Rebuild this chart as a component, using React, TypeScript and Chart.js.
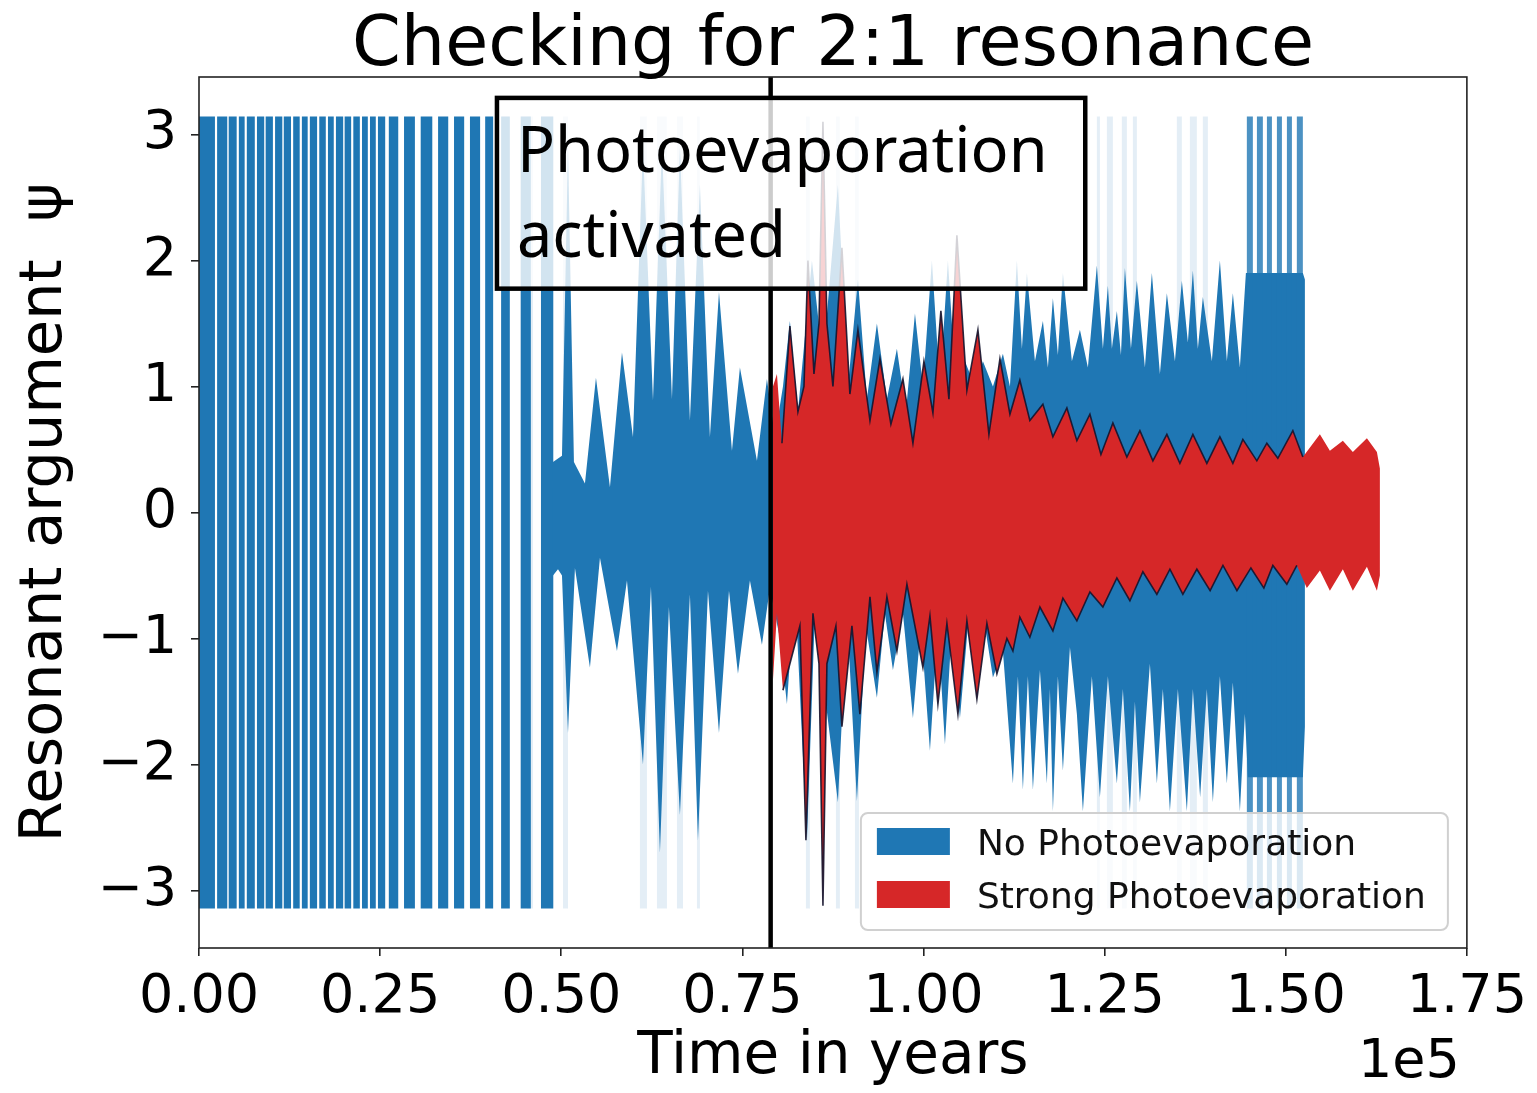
import React, { useEffect, useRef } from 'react';
import { Chart, registerables } from 'chart.js';

Chart.register(...registerables);

const AXIS_FONT = "'DejaVu Sans', 'Liberation Sans', sans-serif";
const NOTE_FONT = "'Noto Sans', 'DejaVu Sans', sans-serif";

const chartTitle = 'Checking for 2:1 resonance';
const xAxisTitle = 'Time in years';
const yAxisTitle = 'Resonant argument  ψ';
const xOffsetLabel = '1e5';
const seriesNames = ['No Photoevaporation', 'Strong Photoevaporation'];
const seriesColors = ['#1f77b4', '#d62728'];
const noteLines = ['Photoevaporation', 'activated'];

const xTickValues = [0, 25000, 50000, 75000, 100000, 125000, 150000, 175000];
const yTickValues = [-3, -2, -1, 0, 1, 2, 3];
const timeMax = 175000;
const psiAxisLimit = 3.456;
const psiWrap = Math.PI;
const activationYear = 78900;

// Circulating phase without photoevaporation: psi sweeps the full [-pi, pi] range (years)
const blueSweepStart = [0, 2500, 4100, 5500, 6600, 8000, 9200, 10500, 11700, 13000, 14200, 15300, 16600, 17800, 18900, 20100, 21300, 22500, 23600, 24700, 26200, 28300, 30600, 33000, 35200, 37400, 39500, 41700, 44400, 47200];
const blueSweepEnd = [2200, 3900, 5200, 6300, 7700, 9000, 10200, 11500, 12700, 13900, 15000, 16300, 17500, 18600, 19900, 21000, 22200, 23300, 24400, 25700, 27500, 29800, 32200, 34400, 36600, 38800, 40600, 42900, 45800, 48900];

// Sparse excursions across the full range
const blueFaintStart = [45300, 50240, 60860, 63210, 65970, 68730, 83770, 87910, 90540, 123930, 125310, 127380, 128900, 134970, 136770, 138560];
const blueFaintEnd = [46100, 50930, 61830, 64590, 66800, 69140, 84320, 88460, 91090, 124350, 126140, 128070, 129450, 135660, 137730, 139250];

// Late circulation episodes just before the run ends
const blueLateStart = [144630, 146020, 147400, 148780, 150160, 151530];
const blueLateEnd = [145460, 146840, 148090, 149470, 150850, 152360];

// Libration envelope without photoevaporation
const blueUpperT = [48860, 50100, 50930, 51750, 53270, 54790, 56720, 58380, 59900, 61280, 62660, 63900, 65280, 66380, 67760, 69140, 70520, 71770, 73560, 74660, 77010, 78390, 79490, 80600, 81560, 82670, 84600, 86120, 88190, 89570, 90950, 92190, 93570, 94950, 96330, 97570, 98820, 99920, 101160, 102270, 103370, 104470, 105720, 107100, 108200, 109580, 110960, 111930, 112890, 113580, 114270, 115380, 116480, 117170, 117860, 118550, 119240, 120480, 121590, 122690, 123930, 124760, 125450, 126000, 126690, 127250, 127800, 128630, 129450, 130560, 131520, 132630, 133590, 134700, 135660, 136490, 137180, 137870, 138560, 139800, 140910, 141870, 142700, 143670, 144500, 152360, 152640];
const blueUpperPsi = [0.40, 0.45, 2.9, 0.40, 0.23, 1.07, 0.20, 1.27, 0.60, 2.9, 0.89, 2.9, 0.90, 2.9, 0.73, 2.6, 0.60, 1.75, 0.49, 1.15, 0.41, 1.06, 0.6, 1.0, 1.52, 0.8, 2.0, 1.2, 2.6, 1.0, 1.85, 0.9, 1.5, 0.9, 1.3, 0.8, 1.58, 1.0, 2.0, 1.0, 2.0, 1.0, 1.2, 1.0, 1.2, 1.0, 1.26, 1.0, 2.0, 1.3, 1.9, 1.2, 1.52, 1.15, 1.7, 1.25, 1.9, 1.2, 1.45, 1.15, 1.96, 1.3, 1.8, 1.3, 1.6, 1.25, 1.94, 1.3, 1.84, 1.15, 1.9, 1.1, 1.74, 1.2, 1.84, 1.35, 1.92, 1.3, 1.71, 1.2, 2.0, 1.2, 1.74, 1.15, 1.9, 1.9, 1.85];
const blueLowerT = [48860, 49550, 50100, 50930, 51890, 53960, 55340, 57690, 59070, 61280, 62380, 63620, 64860, 66380, 67760, 68870, 70250, 71770, 73150, 74390, 76040, 77700, 78800, 80180, 81150, 82250, 83910, 85010, 88190, 89430, 90810, 92050, 93570, 94670, 95780, 97160, 98540, 99640, 100890, 101990, 102960, 103920, 105030, 106130, 107370, 108480, 109580, 110960, 112340, 113030, 113720, 114410, 115100, 116070, 117030, 117450, 117860, 118550, 119240, 120210, 121170, 122000, 123240, 124350, 125450, 126690, 127520, 128490, 129180, 129870, 131250, 132210, 133040, 134010, 135110, 136350, 137180, 138180, 139110, 139940, 140910, 141870, 142700, 143670, 144360, 144770, 152360, 152640];
const blueLowerPsi = [-0.50, -0.45, -0.5, -1.75, -0.44, -1.23, -0.36, -1.10, -0.54, -2.0, -0.59, -2.7, -0.75, -2.4, -0.65, -2.6, -0.62, -1.75, -0.62, -1.28, -0.54, -1.05, -0.6, -1.0, -1.52, -0.6, -2.6, -0.8, -2.3, -0.8, -2.29, -0.9, -1.47, -0.8, -1.25, -0.8, -1.63, -0.9, -1.89, -0.9, -1.84, -0.9, -1.63, -0.9, -1.47, -0.9, -1.31, -1.1, -2.15, -1.3, -2.2, -1.3, -2.2, -1.25, -2.15, -1.4, -2.37, -1.3, -2.05, -1.07, -1.6, -2.37, -1.3, -2.26, -1.3, -2.15, -1.4, -2.37, -1.5, -2.3, -1.2, -2.15, -1.4, -2.37, -1.4, -2.37, -1.4, -2.26, -1.4, -2.3, -1.3, -2.15, -1.35, -2.37, -1.6, -2.1, -2.1, -1.7];

// Libration envelope with strong photoevaporation
const redUpperT = [79220, 79770, 80460, 81560, 82670, 83500, 84050, 84880, 85570, 86120, 86670, 87500, 88740, 89840, 90950, 92610, 93990, 95500, 97160, 98540, 100060, 101300, 102400, 103510, 104610, 105990, 107510, 109030, 110550, 111930, 113300, 114680, 116480, 117860, 119790, 121170, 122970, 124490, 126140, 128070, 129870, 131660, 133590, 135390, 137180, 139110, 140910, 142700, 144080, 146010, 147390, 148910, 150980, 152360, 154710, 156090, 157880, 159260, 161200, 162580, 162990];
const redUpperPsi = [1.0, 1.1, 0.55, 1.48, 0.8, 1.0, 2.0, 1.1, 1.5, 3.1, 1.5, 1.0, 2.1, 0.94, 1.45, 0.73, 1.22, 0.7, 1.06, 0.55, 1.2, 0.79, 1.6, 0.9, 2.2, 0.97, 1.45, 0.62, 1.22, 0.78, 1.05, 0.73, 0.86, 0.6, 0.83, 0.57, 0.78, 0.46, 0.71, 0.44, 0.65, 0.41, 0.62, 0.39, 0.62, 0.39, 0.6, 0.39, 0.58, 0.41, 0.55, 0.43, 0.65, 0.44, 0.62, 0.49, 0.57, 0.48, 0.59, 0.48, 0.35];
const redLowerT = [79220, 79770, 80600, 81560, 82940, 83770, 84740, 85570, 86120, 86670, 87910, 88740, 90120, 91220, 92610, 93570, 94950, 96330, 97710, 99920, 100890, 101990, 103230, 104750, 105990, 107370, 108750, 110130, 111510, 112340, 113300, 114680, 116070, 117860, 119240, 121170, 122970, 124760, 126690, 128490, 130280, 132210, 134010, 135800, 137730, 139560, 141330, 143260, 145190, 146980, 148220, 150150, 151530, 152910, 154710, 156090, 157880, 159260, 161200, 162580, 162990];
const redLowerPsi = [-1.33, -0.8, -1.41, -1.2, -0.9, -2.6, -0.8, -1.2, -3.12, -1.2, -0.9, -1.7, -0.9, -1.6, -0.67, -1.27, -0.67, -1.1, -0.57, -1.23, -0.82, -1.52, -0.88, -1.6, -0.86, -1.48, -0.88, -1.28, -1.0, -1.1, -0.83, -0.99, -0.75, -0.94, -0.68, -0.86, -0.63, -0.75, -0.52, -0.70, -0.47, -0.65, -0.45, -0.65, -0.45, -0.62, -0.42, -0.62, -0.44, -0.6, -0.42, -0.57, -0.42, -0.6, -0.46, -0.62, -0.45, -0.62, -0.43, -0.62, -0.5];

// Stretch where the red envelope edge is traced by a dark rim
const rimFrom = 80000;
const rimTo = 152400;

type Pt = { x: number; y: number | null };

// Closed outline: upper edge left to right, then lower edge back
function bandPolygon(upT: number[], upPsi: number[], loT: number[], loPsi: number[]): Pt[] {
  const pts: Pt[] = upT.map((t, i) => ({ x: t, y: upPsi[i] }));
  for (let i = loT.length - 1; i >= 0; i--) pts.push({ x: loT[i], y: loPsi[i] });
  return pts;
}

// Upper and lower edges inside [from, to], as two separate open paths
function edgePaths(upT: number[], upPsi: number[], loT: number[], loPsi: number[], from: number, to: number): Pt[] {
  const pts: Pt[] = [];
  upT.forEach((t, i) => { if (t >= from && t <= to) pts.push({ x: t, y: upPsi[i] }); });
  pts.push({ x: to, y: null });
  loT.forEach((t, i) => { if (t >= from && t <= to) pts.push({ x: t, y: loPsi[i] }); });
  return pts;
}

// One full-range rectangle per sweep, separated by gaps
function sweepRects(starts: number[], ends: number[]): Pt[] {
  const pts: Pt[] = [];
  starts.forEach((s, i) => {
    const e = ends[i];
    pts.push({ x: s, y: psiWrap }, { x: e, y: psiWrap }, { x: e, y: -psiWrap }, { x: s, y: -psiWrap }, { x: s, y: null });
  });
  return pts;
}

function withAlpha(hex: string, a: number): string {
  const n = parseInt(hex.slice(1), 16);
  return `rgba(${(n >> 16) & 255},${(n >> 8) & 255},${n & 255},${a})`;
}

const decorPlugin = {
  id: 'decor',
  afterDraw(chart: any) {
    const { ctx, chartArea: a } = chart;
    const w = a.right - a.left;
    const h = a.bottom - a.top;
    ctx.save();

    // note box, placed in axes fractions
    const nx0 = a.left + 0.235 * w;
    const nx1 = a.left + 0.699 * w;
    const ny0 = a.bottom - 0.976 * h;
    const ny1 = a.bottom - 0.757 * h;
    ctx.fillStyle = 'rgba(255,255,255,0.8)';
    ctx.fillRect(nx0, ny0, nx1 - nx0, ny1 - ny0);
    ctx.lineWidth = 4.5;
    ctx.strokeStyle = '#000';
    ctx.strokeRect(nx0, ny0, nx1 - nx0, ny1 - ny0);
    ctx.fillStyle = '#000';
    ctx.font = `63px ${NOTE_FONT}`;
    ctx.textAlign = 'left';
    ctx.textBaseline = 'alphabetic';
    ctx.fillText(noteLines[0], nx0 + 20, ny0 + 74);
    ctx.fillText(noteLines[1], nx0 + 20, ny0 + 159);

    // axes frame
    ctx.lineWidth = 1.6;
    ctx.strokeStyle = '#222';
    ctx.strokeRect(a.left, a.top, w, h);

    // legend, lower right
    const lw = 587;
    const lh = 117;
    const lx = a.right - 19 - lw;
    const ly = a.bottom - 18 - lh;
    ctx.beginPath();
    ctx.roundRect(lx, ly, lw, lh, 7);
    ctx.fillStyle = 'rgba(255,255,255,0.8)';
    ctx.fill();
    ctx.lineWidth = 2;
    ctx.strokeStyle = '#d0d0d0';
    ctx.stroke();
    ctx.font = `36px ${AXIS_FONT}`;
    seriesNames.forEach((name, i) => {
      const top = ly + 15 + i * 53;
      ctx.fillStyle = seriesColors[i];
      ctx.fillRect(lx + 16, top, 73, 27);
      ctx.fillStyle = '#111';
      ctx.fillText(name, lx + 116, top + 27);
    });

    // title and exponent label
    ctx.fillStyle = '#000';
    ctx.font = `70px ${AXIS_FONT}`;
    ctx.textAlign = 'center';
    ctx.fillText(chartTitle, (a.left + a.right) / 2, 65);
    ctx.font = `54px ${AXIS_FONT}`;
    ctx.textAlign = 'right';
    ctx.fillText(xOffsetLabel, a.right - 7, 1077);
    ctx.restore();
  },
};

export default function App() {
  const canvasRef = useRef<HTMLCanvasElement | null>(null);

  useEffect(() => {
    if (!canvasRef.current) return;
    const blue = seriesColors[0];
    const red = seriesColors[1];
    const chart = new Chart(canvasRef.current, {
      type: 'line',
      data: {
        datasets: [
          {
            label: 'activation',
            data: [{ x: activationYear, y: -psiAxisLimit }, { x: activationYear, y: psiAxisLimit }],
            borderColor: '#000',
            borderWidth: 4.5,
            fill: false,
            order: 1,
          },
          {
            label: seriesNames[1] + ' rim',
            data: edgePaths(redUpperT, redUpperPsi, redLowerT, redLowerPsi, rimFrom, rimTo),
            borderColor: 'rgba(20,20,45,0.9)',
            borderWidth: 1.6,
            fill: false,
            order: 2,
          },
          {
            label: seriesNames[1],
            data: bandPolygon(redUpperT, redUpperPsi, redLowerT, redLowerPsi),
            backgroundColor: red,
            borderColor: 'transparent',
            borderWidth: 0,
            fill: 'shape',
            order: 3,
          },
          {
            label: seriesNames[0] + ' late',
            data: sweepRects(blueLateStart, blueLateEnd),
            backgroundColor: withAlpha(blue, 0.8),
            borderColor: 'transparent',
            borderWidth: 0,
            fill: 'shape',
            order: 4,
          },
          {
            label: seriesNames[0],
            data: bandPolygon(blueUpperT, blueUpperPsi, blueLowerT, blueLowerPsi),
            backgroundColor: blue,
            borderColor: 'transparent',
            borderWidth: 0,
            fill: 'shape',
            order: 5,
          },
          {
            label: seriesNames[0] + ' circulation',
            data: sweepRects(blueSweepStart, blueSweepEnd),
            backgroundColor: blue,
            borderColor: 'transparent',
            borderWidth: 0,
            fill: 'shape',
            order: 6,
          },
          {
            label: seriesNames[0] + ' sparse',
            data: sweepRects(blueFaintStart, blueFaintEnd),
            backgroundColor: withAlpha(blue, 0.12),
            borderColor: 'transparent',
            borderWidth: 0,
            fill: 'shape',
            order: 7,
          },
        ] as any,
      },
      options: {
        responsive: false,
        animation: false,
        events: [],
        layout: { padding: { top: 77, right: 70, bottom: 0, left: 0 } },
        elements: { point: { radius: 0 }, line: { tension: 0 } },
        plugins: {
          legend: { display: false },
          tooltip: { enabled: false },
          title: { display: false },
        },
        scales: {
          x: {
            type: 'linear',
            min: 0,
            max: timeMax,
            afterFit: (s: any) => { s.height = 145; },
            afterBuildTicks: (s: any) => { s.ticks = xTickValues.map((v) => ({ value: v })); },
            ticks: {
              autoSkip: false,
              maxRotation: 0,
              padding: 10,
              color: '#000',
              font: { family: AXIS_FONT, size: 54 },
              callback: (v: any) => (Number(v) / 1e5).toFixed(2),
            },
            grid: { drawOnChartArea: false, drawTicks: true, tickLength: 8, color: '#222', lineWidth: 1.6 },
            border: { display: false },
            title: {
              display: true,
              text: xAxisTitle,
              color: '#000',
              font: { family: AXIS_FONT, size: 58 },
              padding: { top: 0, bottom: 0 },
            },
          },
          y: {
            type: 'linear',
            min: -psiAxisLimit,
            max: psiAxisLimit,
            afterFit: (s: any) => { s.width = 199; },
            afterBuildTicks: (s: any) => { s.ticks = yTickValues.map((v) => ({ value: v })); },
            ticks: {
              padding: 14,
              color: '#000',
              font: { family: AXIS_FONT, size: 54 },
              callback: (v: any) => {
                const n = Number(v);
                return n < 0 ? '\u2212' + Math.abs(n) : String(n);
              },
            },
            grid: { drawOnChartArea: false, drawTicks: true, tickLength: 8, color: '#222', lineWidth: 1.6 },
            border: { display: false },
            title: {
              display: true,
              text: yAxisTitle,
              color: '#000',
              font: { family: AXIS_FONT, size: 59 },
              padding: { top: 10, bottom: 0 },
            },
          },
        },
      } as any,
      plugins: [decorPlugin],
    });
    return () => chart.destroy();
  }, []);

  return (
    <div style={{ position: 'fixed', left: 0, top: 0, width: 1537, height: 1093, background: '#fff' }}>
      <canvas ref={canvasRef} width={1537} height={1093} style={{ display: 'block' }} />
    </div>
  );
}
